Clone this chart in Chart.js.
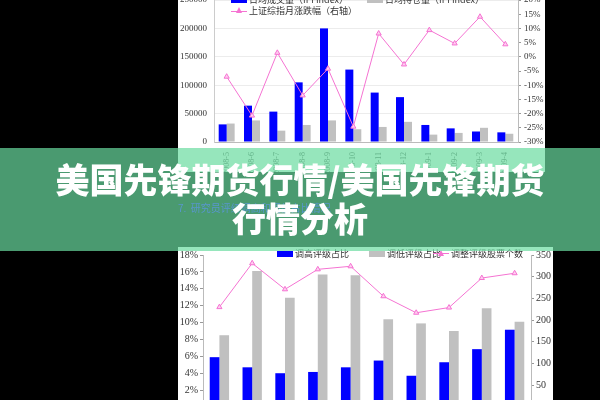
<!DOCTYPE html>
<html>
<head>
<meta charset="utf-8">
<script src="https://cdn.jsdelivr.net/npm/chart.js@4.4.1/dist/chart.umd.min.js"></script>
<style>
  html, body { margin:0; padding:0; width:600px; height:400px; overflow:hidden; background:#000; }
  .panel { position:absolute; background:#fff; overflow:hidden; }
  canvas { position:absolute; display:block; }
  .legend { position:absolute; font-family:"Noto Sans CJK SC", sans-serif; font-size:9px; color:#333; white-space:nowrap; }
  .legend .item { position:absolute; height:12px; line-height:12px; }
  .legend .box { position:absolute; left:0; width:16px; }
  .legend .lbl { position:absolute; left:18px; top:0; }
  .legend .ln { position:absolute; left:0; top:5.5px; width:16px; height:1px; }
  .legend .tri { position:absolute; left:5px; top:2px; width:0; height:0; border-left:3px solid transparent; border-right:3px solid transparent; }
  #banner { position:absolute; left:0; top:148px; width:600px; height:103px; background:rgba(106,220,160,0.70); }
  #note { position:absolute; left:178px; top:200px; font-family:"Noto Sans CJK SC", sans-serif; font-size:10px; color:rgba(90,150,215,0.9); white-space:nowrap; }
  #title { position:absolute; left:0; top:159px; width:600px; text-align:center; color:#fff; font-family:"Noto Sans CJK SC", sans-serif; font-weight:900; font-size:34px; line-height:39px; white-space:nowrap; }
</style>
</head>
<body>
<div class="panel" id="topPanel" style="left:178px; top:0; width:367px; height:172px;">
  <canvas id="topChart" width="367" height="200" style="left:0; top:-20px; width:367px; height:200px;"></canvas>
</div>
<div class="panel" id="botPanel" style="left:178px; top:247px; width:375px; height:153px;">
  <canvas id="botChart" width="375" height="200" style="left:0; top:0; width:375px; height:200px;"></canvas>
</div>
<div class="legend" id="topLegend"></div>
<div class="legend" id="botLegend"></div>
<div id="banner"></div>
<div id="note">7.&nbsp;&nbsp;研究员评级调高和调低占比情况</div>
<div id="title">美国先锋期货行情/美国先锋期货<br>行情分析</div>

<script>
// ---------- Top chart data ----------
const topCategories = ['2008-5','2008-6','2008-7','2008-8','2008-9','2008-10','2008-11','2008-12','2009-1','2009-2','2009-3','2009-4'];
const topSeriesNames = ['日均成交量（IPI Index）', '日均持仓量（IPI Index）', '上证综指月涨跌幅（右轴）'];
const topVolume = [31000, 64000, 53500, 105000, 200000, 127500, 87000, 79000, 30000, 24000, 18500, 17000];
const topOpenInterest = [32500, 38000, 20000, 30000, 38000, 22500, 26500, 35500, 13000, 16000, 25000, 14500];
const topIndexChange = [-0.070, -0.207, 0.014, -0.136, -0.042, -0.246, 0.082, -0.027, 0.094, 0.047, 0.141, 0.044];

// ---------- Bottom chart data ----------
const botCategories = ['2008-7','2008-8','2008-9','2008-10','2008-11','2008-12','2009-1','2009-2','2009-3','2009-4'];
const botSeriesNames = ['调高评级占比', '调低评级占比', '调整评级股票个数'];
const upgradeShare = [0.059, 0.047, 0.040, 0.0415, 0.047, 0.055, 0.037, 0.053, 0.0685, 0.0915];
const downgradeShare = [0.085, 0.161, 0.1295, 0.157, 0.156, 0.104, 0.099, 0.090, 0.117, 0.101];
const adjustedCount = [230, 331, 271, 317, 324, 255, 217, 229, 297, 308];

const BLUE = '#0000ff';
const GRAY = '#c0c0c0';
const PINK = 'rgb(245,115,210)';
const PINK_FILL = 'rgb(255,205,240)';
const SERIF = "'Liberation Serif', 'DejaVu Serif', serif";
const TICK_COLOR = '#333';

Chart.defaults.font.family = SERIF;

const pct = v => Math.round(v * 100) + '%';
const plain = v => String(Math.round(v));

// ---------- Top chart ----------
new Chart(document.getElementById('topChart'), {
  type: 'bar',
  data: {
    labels: topCategories,
    datasets: [
      { label: topSeriesNames[0], data: topVolume, backgroundColor: BLUE, yAxisID: 'y', categoryPercentage: 0.63, barPercentage: 1, order: 1 },
      { label: topSeriesNames[1], data: topOpenInterest, backgroundColor: GRAY, yAxisID: 'y', categoryPercentage: 0.63, barPercentage: 1, order: 1 },
      { type: 'line', label: topSeriesNames[2], data: topIndexChange, yAxisID: 'y1', borderColor: PINK, borderWidth: 1,
        pointStyle: 'triangle', pointRadius: 3, pointBorderWidth: 1, pointBorderColor: PINK, pointBackgroundColor: PINK_FILL, tension: 0, order: 0 }
    ]
  },
  options: {
    responsive: false, animation: false,
    layout: { padding: { top: 20, left: 0, right: 0, bottom: 0 } },
    plugins: { legend: { display: false }, tooltip: { enabled: false } },
    scales: {
      x: {
        offset: true,
        grid: { display: false },
        border: { color: '#bbb' },
        ticks: { autoSkip: false, maxRotation: 90, minRotation: 90, padding: 2, color: '#555', font: { size: 8, family: SERIF } },
        afterFit(s) { s.height = 38; }
      },
      y: {
        position: 'left', min: 0, max: 250000,
        grid: { color: '#ececec', drawTicks: false },
        border: { color: '#ccc' },
        ticks: { stepSize: 50000, padding: 7, color: TICK_COLOR, font: { size: 9, family: SERIF }, callback: plain },
        afterFit(s) { s.width = 36; }
      },
      y1: {
        position: 'right', min: -0.30, max: 0.20,
        grid: { drawOnChartArea: false, tickLength: 3, color: '#999' },
        border: { color: '#bbb' },
        ticks: { stepSize: 0.05, padding: 3, color: TICK_COLOR, font: { size: 9, family: SERIF }, callback: pct },
        afterFit(s) { s.width = 27; }
      }
    }
  }
});

// ---------- Bottom chart ----------
new Chart(document.getElementById('botChart'), {
  type: 'bar',
  data: {
    labels: botCategories,
    datasets: [
      { label: botSeriesNames[0], data: upgradeShare, backgroundColor: BLUE, yAxisID: 'y', categoryPercentage: 0.59, barPercentage: 1, order: 1 },
      { label: botSeriesNames[1], data: downgradeShare, backgroundColor: GRAY, yAxisID: 'y', categoryPercentage: 0.59, barPercentage: 1, order: 1 },
      { type: 'line', label: botSeriesNames[2], data: adjustedCount, yAxisID: 'y1', borderColor: PINK, borderWidth: 1,
        pointStyle: 'triangle', pointRadius: 3, pointBorderWidth: 1, pointBorderColor: PINK, pointBackgroundColor: PINK_FILL, tension: 0, order: 0 }
    ]
  },
  options: {
    responsive: false, animation: false,
    layout: { padding: { top: 5, left: 0, right: 0, bottom: 0 } },
    plugins: { legend: { display: false }, tooltip: { enabled: false } },
    scales: {
      x: {
        offset: true,
        grid: { display: false },
        border: { color: '#bbb' },
        ticks: { autoSkip: false, maxRotation: 90, minRotation: 90, color: '#555', font: { size: 8, family: SERIF } },
        afterFit(s) { s.height = 40; }
      },
      y: {
        position: 'left', min: 0, max: 0.18,
        grid: { drawOnChartArea: false, tickLength: 3, color: '#999' },
        border: { color: '#bbb' },
        ticks: { stepSize: 0.02, padding: 2, color: TICK_COLOR, font: { size: 10, family: SERIF }, callback: pct },
        afterFit(s) { s.width = 25; }
      },
      y1: {
        position: 'right', min: 0, max: 350,
        grid: { drawOnChartArea: false, tickLength: 3, color: '#999' },
        border: { color: '#bbb' },
        ticks: { stepSize: 50, padding: 2, color: TICK_COLOR, font: { size: 10, family: SERIF } },
        afterFit(s) { s.width = 22; }
      }
    }
  }
});

// ---------- HTML legends ----------
function legendItem(container, name, kind, color, left, centerY) {
  const it = document.createElement('div');
  it.className = 'item';
  it.style.left = left + 'px';
  it.style.top = (centerY - 6) + 'px';
  if (kind === 'box') {
    const b = document.createElement('div');
    b.className = 'box';
    b.style.background = color;
    b.style.top = '3px';
    b.style.height = '6px';
    it.appendChild(b);
  } else {
    const l = document.createElement('div');
    l.className = 'ln'; l.style.background = color; it.appendChild(l);
    const t = document.createElement('div');
    t.className = 'tri'; t.style.borderBottom = '6px solid ' + color; it.appendChild(t);
  }
  const s = document.createElement('div');
  s.className = 'lbl';
  s.textContent = name;
  it.appendChild(s);
  container.appendChild(it);
}
const tl = document.getElementById('topLegend');
legendItem(tl, topSeriesNames[0], 'box', BLUE, 231, 0);
legendItem(tl, topSeriesNames[1], 'box', GRAY, 367, 0);
legendItem(tl, topSeriesNames[2], 'line', PINK, 231, 11);
const bl = document.getElementById('botLegend');
legendItem(bl, botSeriesNames[0], 'box', BLUE, 277, 253.5);
legendItem(bl, botSeriesNames[1], 'box', GRAY, 369, 253.5);
legendItem(bl, botSeriesNames[2], 'line', PINK, 433, 253.5);
</script>
</body>
</html>
